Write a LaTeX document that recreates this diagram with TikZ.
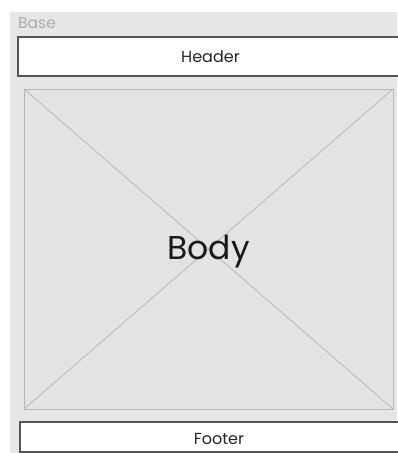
\documentclass[tikz,border=0pt]{standalone}
\usepackage{fontspec}
\setmainfont{Poppins}
\definecolor{panel}{HTML}{E6E6E6}
\definecolor{bodyfill}{HTML}{E3E3E3}
\definecolor{bodyline}{HTML}{B8B8B8}
\definecolor{basetext}{HTML}{ABABAB}
\definecolor{boxline}{HTML}{555555}
\tikzset{
  bar/.style={draw=boxline, line width=1.2pt, fill=white},
  lbl/.style={text=black!85, font=\fontsize{16}{18}\selectfont, inner sep=0pt}
}
\begin{document}
\begin{tikzpicture}[x=1pt,y=-1pt]
\useasboundingbox (0,0) rectangle (397,453);
\fill[white] (0,0) rectangle (397,453);
\fill[panel] (10,12) rectangle (397,453);
\node[anchor=west, text=basetext, font=\fontsize{15.5}{17}\selectfont, inner sep=0pt] (base) at (18,23.5) {Base};
\draw[bar] (18,37) rectangle (400,76);
\node[lbl] (header) at (210.5,56.5) {Header};
\draw[draw=bodyline, fill=bodyfill, line width=0.9pt] (24,89) rectangle (393,409);
\coordinate (tl) at (24,89);
\coordinate (tr) at (393,89);
\coordinate (bl) at (24,409);
\coordinate (br) at (393,409);
\draw[bodyline, line width=0.8pt] (tl) -- (br);
\draw[bodyline, line width=0.8pt] (tr) -- (bl);
\node[text=black!90, font=\fontsize{33}{36}\selectfont, inner sep=0pt] (body) at (208.5,251.5) {Body};
\draw[bar] (20,422) rectangle (400,452);
\node[lbl] (footer) at (219,438.5) {Footer};
\end{tikzpicture}
\end{document}
